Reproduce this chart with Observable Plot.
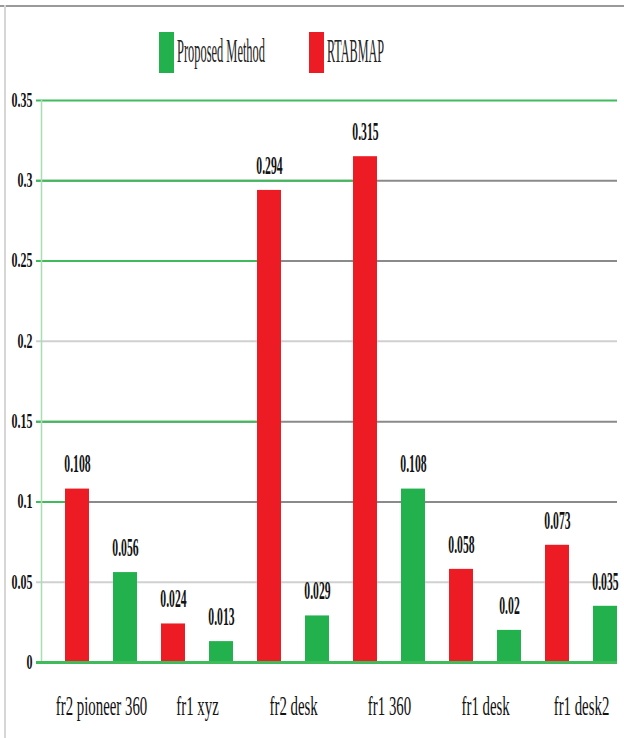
<!DOCTYPE html>
<html>
<head>
<meta charset="utf-8">
<script src="https://cdn.jsdelivr.net/npm/d3@7"></script>
<script src="https://cdn.jsdelivr.net/npm/@observablehq/plot@0.6"></script>
<style>
  body { margin: 0; background: #fff; }
  #wrap { position: relative; width: 624px; height: 738px; overflow: hidden; font-family: "Liberation Serif", "Times New Roman", serif; }
  #bt { position: absolute; left: 0; top: 5px; width: 624px; height: 2px; background: #9a9a9a; }
  #bl { position: absolute; left: 4px; top: 5px; width: 2px; height: 733px; background: #d6d6d6; }
  #legend { position: relative; height: 88px; }
  .sw { position: absolute; top: 32px; width: 15px; height: 41px; }
  .lt { position: absolute; top: 35px; font-size: 33px; line-height: 33px; color: #222; white-space: nowrap; transform-origin: 0 0; }
  #chart { position: relative; }
</style>
</head>
<body>
<div id="wrap">
  <div id="bt"></div>
  <div id="bl"></div>
  <div id="legend"></div>
  <div id="chart"></div>
</div>
<script>
// ---- data ----
const categories = ["fr2 pioneer 360", "fr1 xyz", "fr2 desk", "fr1 360", "fr1 desk", "fr1 desk2"];
const series = ["RTABMAP", "Proposed Method"];
const rtabmap = [0.108, 0.024, 0.294, 0.315, 0.058, 0.073];
const proposed = [0.056, 0.013, 0.029, 0.108, 0.02, 0.035];
const seriesColors = ["#ed1c24", "#22b14c"];
const yTicks = [0, 0.05, 0.1, 0.15, 0.2, 0.25, 0.3, 0.35];
const yTickLabels = ["0", "0.05", "0.1", "0.15", "0.2", "0.25", "0.3", "0.35"];
// gridlines: grey tone per tick, and how far the green part runs (bar key)
const gridDark = [0.1, 0.15, 0.25, 0.3];
const gridLight = [0.05, 0.2];
const greenTicks = [0.35, 0.3, 0.25, 0.15, 0.1];
const greenEnds = ["fr1 desk2|Proposed Method", "fr1 360|RTABMAP", "fr2 desk|RTABMAP", "fr2 desk|RTABMAP", "fr2 pioneer 360|RTABMAP"];

// ---- table ----
const rows = [];
categories.forEach((c, i) => {
  rows.push({category: c, series: series[0], value: rtabmap[i], key: c + "|" + series[0]});
  rows.push({category: c, series: series[1], value: proposed[i], key: c + "|" + series[1]});
});
const keys = rows.map(d => d.key);
const redKeys = rows.filter(d => d.series === series[0]).map(d => d.key);
const greenRows = greenTicks.map((t, i) => ({y: t, start: keys[0], end: greenEnds[i]}));

// ---- legend (HTML) ----
const legend = document.getElementById("legend");
const legendItems = [
  {label: "Proposed Method", color: seriesColors[1], x: 159, w: 88},
  {label: "RTABMAP", color: seriesColors[0], x: 309, w: 57}
];
legendItems.forEach(it => {
  const sw = document.createElement("div");
  sw.className = "sw"; sw.style.left = it.x + "px"; sw.style.background = it.color;
  legend.appendChild(sw);
  const t = document.createElement("div");
  t.className = "lt"; t.style.left = (it.x + 18) + "px"; t.textContent = it.label;
  legend.appendChild(t);
  const nat = t.getBoundingClientRect().width;
  t.style.transform = `scaleX(${it.w / nat})`;
});

// ---- chart ----
const plot = Plot.plot({
  width: 624,
  height: 650,
  marginTop: 12,
  marginBottom: 76,
  marginLeft: 41,
  marginRight: 7,
  style: {fontFamily: "'Liberation Serif', 'Times New Roman', serif", background: "transparent", color: "#111"},
  x: {domain: keys, paddingInner: 0.5, paddingOuter: 0.25, align: 1, axis: null},
  y: {domain: [0, 0.35], axis: null},
  color: {domain: series, range: seriesColors},
  marks: [
    Plot.ruleY(gridLight, {stroke: "#d0d0d0", strokeWidth: 2, insetLeft: -5}),
    Plot.ruleY(gridDark, {stroke: "#8a8a8a", strokeWidth: 2, insetLeft: -5}),
    Plot.ruleY(greenRows, {y: "y", x1: "start", x2: "end", stroke: "#3fbb5c", strokeWidth: 2, insetLeft: -29}),
    Plot.frame({anchor: "left", stroke: "#a6dfb1", strokeWidth: 1.5}),
    Plot.barY(rows, {x: "key", y: "value", fill: "series"}),
    Plot.ruleY([0], {stroke: "#3fbb5c", strokeWidth: 3, insetLeft: -5}),
    Plot.text(rows, {x: "key", y: "value", text: d => String(d.value), dy: -25, fontSize: 26, fontWeight: "bold", fill: "#111"}),
    Plot.axisY({ticks: yTicks, tickFormat: (d, i) => yTickLabels[yTicks.indexOf(d)], tickSize: 0, tickPadding: 9, fontSize: 20, fontWeight: "bold"}),
    Plot.axisX({ticks: redKeys, tickFormat: k => k.split("|")[0], tickSize: 0, tickPadding: 33, dx: 24, fontSize: 27, fill: "#111"})
  ]
});
document.getElementById("chart").appendChild(plot);

// horizontally condensed lettering, as in the reference: scale each text about its anchor point
function squeeze(selector, f) {
  plot.querySelectorAll(selector).forEach(t => {
    const b = t.getBBox();
    const anchor = getComputedStyle(t).textAnchor;
    const cx = anchor === "middle" ? b.x + b.width / 2 : anchor === "end" ? b.x + b.width : b.x;
    const tr = t.getAttribute("transform") || "";
    t.setAttribute("transform", `${tr} translate(${cx},0) scale(${f},1) translate(${-cx},0)`);
  });
}
squeeze('g[aria-label="text"] text', 0.45);
squeeze('g[aria-label="y-axis tick label"] text', 0.6);
squeeze('g[aria-label="x-axis tick label"] text', 0.55);
</script>
</body>
</html>
